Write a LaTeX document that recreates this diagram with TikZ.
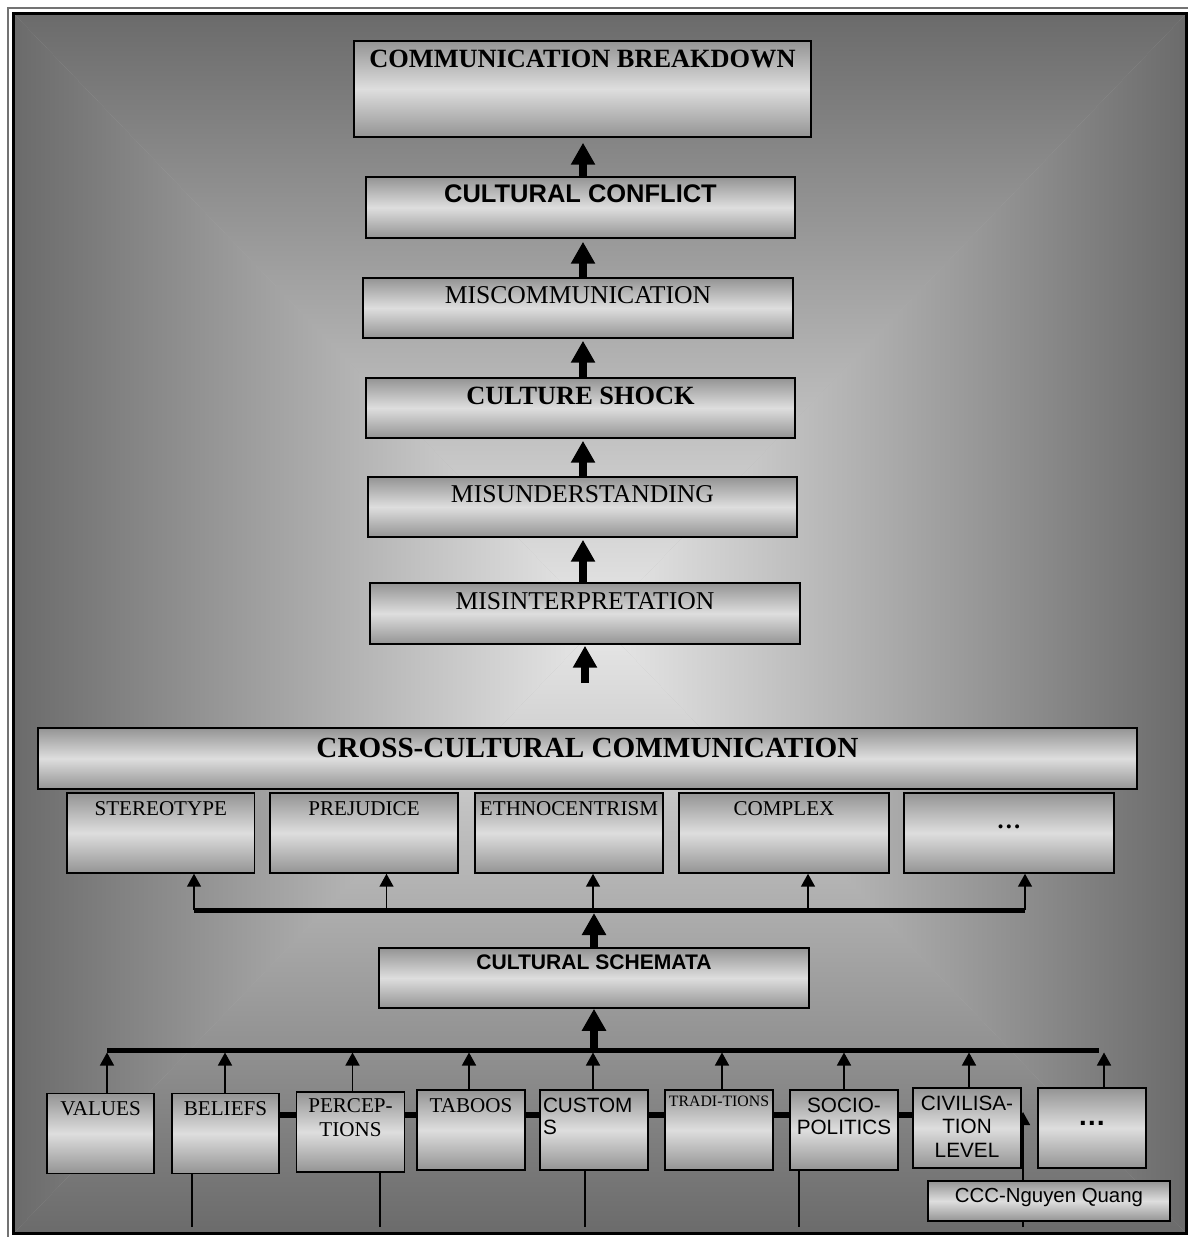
\documentclass[tikz,border=0pt]{standalone}
\usepackage{fontspec}
\setmainfont{Liberation Serif}
\setsansfont{Liberation Sans}
\usetikzlibrary{arrows.meta}

\definecolor{boxedge}{gray}{0.58}
\definecolor{boxmid}{gray}{0.87}
\definecolor{bgdark}{gray}{0.42}
\definecolor{bglight}{gray}{0.91}

\begin{document}
\begin{tikzpicture}[x=0.02cm,y=-0.02cm]
      \tikzstyle{every node}+=[inner sep=0pt]
      \tikzstyle{panel}=[draw=black,line width=0.03cm,top color=boxedge,bottom color=boxedge,middle color=boxmid]
      \tikzstyle{colbox}=[panel,minimum width=8.6cm,text height=0.5cm,text depth=0.7cm,font=\fontsize{14.6}{17}\selectfont]
      \tikzstyle{midbox}=[panel,text height=0.44cm,text depth=1.16cm,font=\fontsize{12}{14}\selectfont]
      \tikzstyle{basebox}=[panel,minimum width=2.16cm,text height=0.44cm,text depth=1.16cm,font=\fontsize{12}{14}\selectfont]
      \tikzstyle{bigarrow}=[line width=0.16cm,-{Triangle[width=0.46cm,length=0.44cm]}]
      \tikzstyle{smallarrow}=[line width=0.03cm,-{Triangle[width=0.28cm,length=0.26cm]}]
      \tikzstyle{bus}=[line width=0.1cm]
      \useasboundingbox (0,0) rectangle (1188,1237);
      % background, lighter towards the middle
      \coordinate (mid) at (600,623);
      \fill[black!30] (15,15) rectangle (1185,1232);
      \shade[top color=bgdark,bottom color=bglight] (15,15) -- (1185,15) -- (mid) -- cycle;
      \shade[top color=bglight,bottom color=bgdark] (15,1232) -- (1185,1232) -- (mid) -- cycle;
      \shade[left color=bgdark,right color=bglight] (15,15) -- (15,1232) -- (mid) -- cycle;
      \shade[left color=bglight,right color=bgdark] (1185,15) -- (1185,1232) -- (mid) -- cycle;
      \draw[black!55,line width=0.03cm] (8,1237) -- (8,8) -- (1188,8);
      \draw[line width=0.06cm] (13.5,13.5) rectangle (1186.5,1233.5);
      % the loose arrow behind the last boxes
      \coordinate (tailA) at (1023,1227);
      \coordinate (tipA) at (1023,1112);
      \draw[smallarrow] (tailA) -- (tipA);

      % chain of boxes
      \node[panel,minimum width=9.14cm,text height=0.52cm,text depth=1.4cm,font=\bfseries\fontsize{15}{18}\selectfont] (brk) at (582.5,89) {COMMUNICATION BREAKDOWN};
      \node[colbox,minimum width=8.58cm,text depth=0.72cm,font=\sffamily\bfseries\fontsize{14.5}{17}\selectfont] (conf) at (580.5,207.5) {CULTURAL CONFLICT};
      \node[colbox] (miscom) at (578,308) {MISCOMMUNICATION};
      \node[colbox,minimum width=8.58cm,text height=0.52cm,text depth=0.68cm,font=\bfseries\fontsize{15}{18}\selectfont] (shock) at (580.5,408) {CULTURE SHOCK};
      \node[colbox,minimum width=8.58cm] (misund) at (582.5,507) {MISUNDERSTANDING};
      \node[colbox,text height=0.52cm] (misint) at (585,613.5) {MISINTERPRETATION};

      \node[panel,minimum width=21.98cm,text height=0.58cm,text depth=0.64cm,font=\bfseries\fontsize{16.6}{20}\selectfont] (cross) at (587.5,758.5) {CROSS-CULTURAL COMMUNICATION};
      \node[midbox,minimum width=3.75cm] (stereo) at (160.75,833) {STEREOTYPE};
      \node[midbox,minimum width=3.76cm] (prej) at (364,833) {PREJUDICE};
      \node[midbox,minimum width=3.76cm] (ethno) at (569,833) {ETHNOCENTRISM};
      \node[midbox,minimum width=4.2cm] (complex) at (784,833) {COMPLEX};
      \node[midbox,minimum width=4.2cm,text height=0.7cm,text depth=0.9cm,font=\bfseries\fontsize{14}{16}\selectfont] (dots2) at (1009,833) {…};

      \node[colbox,text height=0.42cm,text depth=0.78cm,font=\sffamily\bfseries\fontsize{12}{14}\selectfont] (schem) at (594,978) {CULTURAL SCHEMATA};

      \node[basebox,minimum width=2.14cm] (values) at (100.5,1133.5) {VALUES};
      \node[basebox,minimum width=2.14cm] (beliefs) at (225.5,1133.5) {BELIEFS};
      \node[basebox,text width=2.14cm,align=center,text height=0.4cm,text depth=1.2cm,font=\fontsize{12}{14}\selectfont] (percep) at (350.5,1132) {PERCEP-\\TIONS};
      \node[basebox] (taboos) at (471,1130) {TABOOS};
      \node[basebox,text width=2.04cm,inner xsep=0.06cm,align=left,font=\sffamily\fontsize{11.8}{13}\selectfont] (custom) at (594,1130) {CUSTOM\\S};
      \node[basebox,text height=0.32cm,text depth=1.28cm,font=\fontsize{9}{11}\selectfont] (tradi) at (719,1130) {TRADI-TIONS};
      \node[basebox,text width=2.16cm,align=center,font=\sffamily\fontsize{11.8}{13}\selectfont] (socio) at (844,1130) {SOCIO-\\POLITICS};
      \node[basebox,text width=2.16cm,align=center,font=\sffamily\fontsize{11.8}{13.5}\selectfont] (civil) at (967,1128) {CIVILISA-\\TION\\LEVEL};
      \node[basebox,text height=0.74cm,text depth=0.86cm,font=\sffamily\bfseries\fontsize{16}{18}\selectfont] (dots1) at (1092,1128) {…};
      \node[panel,minimum width=4.84cm,text height=0.42cm,text depth=0.38cm,font=\sffamily\fontsize{11.6}{14}\selectfont] (nguyen) at (1049,1201) {CCC-Nguyen Quang};

      % arrows up the chain
      \coordinate (spine) at (583,0);
      \draw[bigarrow,shorten >=0.1cm] (conf.north -| spine) -- (brk.south -| spine);
      \draw[bigarrow,shorten >=0.06cm] (miscom.north -| spine) -- (conf.south -| spine);
      \draw[bigarrow,shorten >=0.04cm] (shock.north -| spine) -- (miscom.south -| spine);
      \draw[bigarrow,shorten >=0.04cm] (misund.north -| spine) -- (shock.south -| spine);
      \draw[bigarrow,shorten >=0.04cm] (misint.north -| spine) -- (misund.south -| spine);
      \coordinate (ccup) at (585,683);
      \draw[bigarrow,shorten >=0.02cm] (ccup) -- (misint.south);

      % upper fork
      \coordinate (b2l) at (194,910);
      \coordinate (b2r) at (1025,910);
      \draw[bus] (b2l) -- (b2r);
      \foreach \p/\x in {stereo/194,prej/386.5,ethno/593,complex/808,dots2/1025}
      {
        \coordinate (t-\p) at (\x,910);
        \draw[smallarrow] (t-\p) -- (t-\p |- \p.south);
      }
      \draw[bigarrow,shorten >=0.06cm] (schem.north) -- (schem.north |- b2l);

      % lower fork
      \coordinate (b1l) at (107,1050);
      \coordinate (b1r) at (1099,1050);
      \draw[bus] (b1l) -- (b1r);
      \draw[bigarrow] (schem.south |- b1l) -- (schem.south);
      \foreach \p/\x in {values/107,beliefs/225,percep/352.5,taboos/469,custom/593,tradi/722,socio/844,civil/969,dots1/1104}
      {
        \coordinate (u-\p) at (\x,1050);
        \draw[smallarrow,shorten >=0.05cm] (u-\p |- \p.north) -- (u-\p);
      }

      % links between the lower boxes
      \coordinate (rail) at (0,1115);
      \foreach \p/\q in {beliefs/percep,percep/taboos,taboos/custom,custom/tradi,tradi/socio,socio/civil}
        \draw[line width=0.12cm] (\p.east |- rail) -- (\q.west |- rail);
      \foreach \p/\x in {beliefs/192,percep/380,custom/585,socio/799}
      {
        \coordinate (d-\p) at (\x,1227);
        \draw[line width=0.03cm] (d-\p |- \p.south) -- (d-\p);
      }
\end{tikzpicture}
\end{document}
